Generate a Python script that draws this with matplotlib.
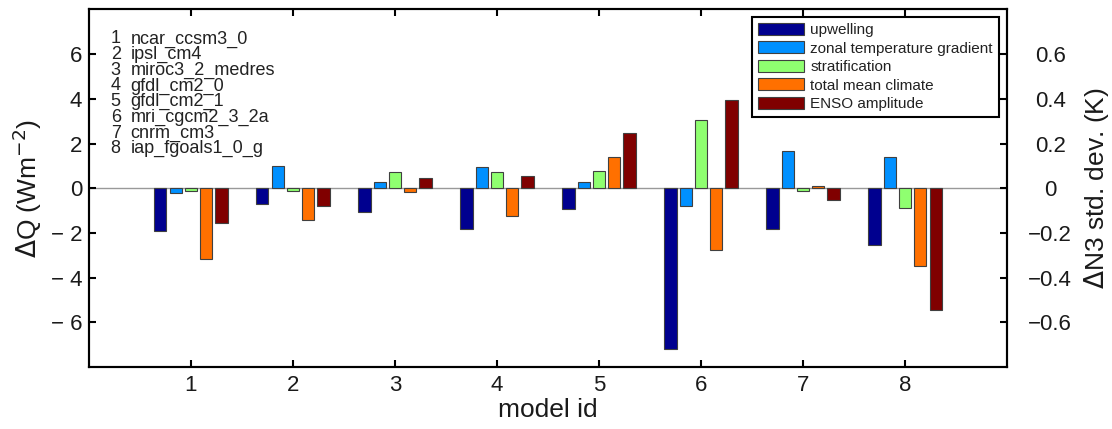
import numpy as np
import matplotlib.pyplot as plt
from matplotlib.patches import Patch

plt.rcParams['font.family'] = ['Liberation Sans', 'DejaVu Sans']

# model ids and names
model_ids = [1, 2, 3, 4, 5, 6, 7, 8]
model_names = ['ncar_ccsm3_0', 'ipsl_cm4', 'miroc3_2_medres', 'gfdl_cm2_0',
               'gfdl_cm2_1', 'mri_cgcm2_3_2a', 'cnrm_cm3', 'iap_fgoals1_0_g']

# feedback terms (Wm-2); ENSO amplitude shares the axis scaled x10
upwelling = [-1.92, -0.72, -1.08, -1.81, -0.95, -7.18, -1.81, -2.55]
zonal_grad = [-0.21, 1.00, 0.28, 0.97, 0.30, -0.81, 1.65, 1.40]
stratification = [-0.13, -0.13, 0.71, 0.73, 0.75, 3.04, -0.12, -0.87]
total_mean = [-3.17, -1.43, -0.19, -1.23, 1.39, -2.76, 0.12, -3.46]
enso_amp = [-0.155, -0.078, 0.047, 0.056, 0.248, 0.396, -0.051, -0.547]  # K

labels = ['upwelling', 'zonal temperature gradient', 'stratification',
          'total mean climate', 'ENSO amplitude']
colors = ['#00008f', '#0090ff', '#8fff70', '#ff7000', '#800000']

fig = plt.figure(figsize=(11.12, 4.29), dpi=100)
ax = fig.add_axes([0.080, 0.1445, 0.8256, 0.8335])

x = np.array(model_ids, dtype=float)
series = [upwelling, zonal_grad, stratification, total_mean,
          list(np.array(enso_amp) * 10)]
offsets = [-0.30, -0.15, 0.0, 0.15, 0.30]
width = 0.12

ax.axhline(0, color='#999999', lw=1.0, zorder=1)
for vals, off, c in zip(series, offsets, colors):
    ax.bar(x + off, vals, width, color=c, edgecolor='#404040', lw=0.8, zorder=2)

ax.set_xlim(0, 9)
ax.set_ylim(-8, 8)
ax.set_xticks(model_ids)
ax.set_xticklabels([str(i) for i in model_ids])
yt = [-6, -4, -2, 0, 2, 4, 6]
ax.set_yticks(yt)
ax.set_yticklabels([('\u2212 %d' % -v) if v < 0 else '%d' % v for v in yt])
ax.tick_params(direction='in', length=5, width=1.5, labelsize=16,
               colors='black', labelcolor='#1a1a1a', top=True, pad=5)
ax.tick_params(axis='x', pad=6)
for s in ax.spines.values():
    s.set_linewidth(1.5)

ax.set_xlabel('model id', fontsize=19, color='#1a1a1a', labelpad=1)
ax.set_ylabel(r'$\Delta$Q (Wm$^{-2}$)', fontsize=19, color='#1a1a1a', labelpad=4.5)

# right axis for the ENSO amplitude change
ax2 = ax.twinx()
ax2.set_ylim(-0.8, 0.8)
rt = [-0.6, -0.4, -0.2, 0, 0.2, 0.4, 0.6]
ax2.set_yticks(rt)
ax2.set_yticklabels([('\u2212%.1f' % -v) if v < 0 else ('0' if v == 0 else '%.1f' % v) for v in rt])
ax2.tick_params(direction='in', length=5, width=1.5, labelsize=16,
                labelcolor='#1a1a1a', pad=31)
for t in ax2.get_yticklabels():
    t.set_horizontalalignment('center')
ax2.set_ylabel(r'$\Delta$N3 std. dev. (K)', fontsize=19, color='#1a1a1a',
               labelpad=7)
for s in ax2.spines.values():
    s.set_linewidth(1.5)

# model key in the upper left
for i, (mid, name) in enumerate(zip(model_ids, model_names)):
    yy = 0.905 - i * 0.0439
    ax.text(0.0236, yy, str(mid), transform=ax.transAxes, fontsize=13,
            color='#222222', va='baseline')
    ax.text(0.0454, yy, name, transform=ax.transAxes, fontsize=13,
            color='#222222', va='baseline')

handles = [Patch(facecolor=c, edgecolor='#404040', lw=0.8) for c in colors]
leg = ax2.legend(handles, labels, loc='upper right', bbox_to_anchor=(0.991, 0.980),
                 borderaxespad=0, fontsize=11, handlelength=3.0, handleheight=0.85,
                 labelspacing=0.27, handletextpad=0.4, borderpad=0.4,
                 fancybox=False, framealpha=1, edgecolor='black')
leg.get_frame().set_linewidth(1.5)
for t in leg.get_texts():
    t.set_color('#222222')

fig.savefig('out.png', dpi=100)
